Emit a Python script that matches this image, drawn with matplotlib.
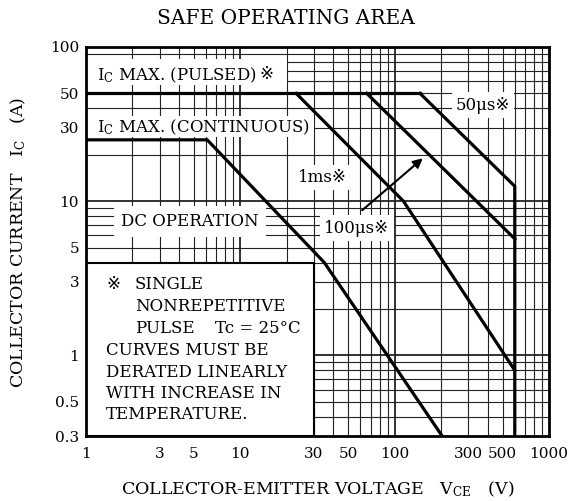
import numpy as np
import matplotlib.pyplot as plt
from matplotlib.patches import Rectangle
from matplotlib.ticker import FixedLocator, FixedFormatter, NullFormatter

plt.rcParams['font.family'] = ['DejaVu Serif', 'DejaVu Sans', 'Noto Sans CJK JP']
plt.rcParams['mathtext.fontset'] = 'dejavuserif'

# SOA boundaries (V_CE in V, I_C in A)
pulsed_v = [1, 146]
pulsed_i = [50, 50]

dc_v = [1, 6.1, 35, 203]
dc_i = [25, 25, 4.0, 0.3]

ms1_v = [23, 114, 600]
ms1_i = [50, 10, 0.8]

us100_v = [66, 600]
us100_i = [50, 5.7]

us50_v = [146, 600, 600]
us50_i = [50, 12.5, 0.3]

x_ticks = [1, 3, 5, 10, 30, 50, 100, 300, 500, 1000]
x_labels = ['1', '3', '5', '10', '30', '50', '100', '300', '500', '1000']
y_ticks = [0.3, 0.5, 1, 3, 5, 10, 30, 50, 100]
y_labels = ['0.3', '0.5', '1', '3', '5', '10', '30', '50', '100']

# Figure

fig = plt.figure(figsize=(5.7, 5.01), dpi=100)
ax = fig.add_axes([86 / 570, 1 - 436 / 501, 463 / 570, 389 / 501])
ax.set_xscale('log')
ax.set_yscale('log')
ax.set_xlim(1, 1000)
ax.set_ylim(0.3, 100)

# grid at every 1..9 step of each decade
x_grid = [k * 10 ** n for n in range(3) for k in range(1, 10)] + [1000]
y_grid = [k * 10 ** n for n in range(-1, 2) for k in range(3, 10) if k * 10 ** n >= 0.3] + \
         [k * 10 ** n for n in range(0, 2) for k in range(1, 3)] + [100]
for x in x_grid:
    ax.axvline(x, color='#222222', lw=1.3 if x in (10, 100) else 0.8, zorder=1)
for y in y_grid:
    ax.axhline(y, color='#222222', lw=1.3 if y in (1, 10) else 0.8, zorder=1)

ax.xaxis.set_major_locator(FixedLocator(x_ticks))
ax.xaxis.set_major_formatter(FixedFormatter(x_labels))
ax.xaxis.set_minor_formatter(NullFormatter())
ax.yaxis.set_major_locator(FixedLocator(y_ticks))
ax.yaxis.set_major_formatter(FixedFormatter(y_labels))
ax.yaxis.set_minor_formatter(NullFormatter())
ax.tick_params(which='both', length=0, labelsize=11)
ax.tick_params(axis='x', pad=8)
ax.tick_params(axis='y', pad=5)
for s in ax.spines.values():
    s.set_linewidth(2)
    s.set_zorder(5)

# white label areas
ax.add_patch(Rectangle((1, 56.5), 19, 83 - 56.5, fc='white', ec='none', zorder=2))
ax.add_patch(Rectangle((1, 26), 29, 35.5 - 26, fc='white', ec='none', zorder=2))
ax.add_patch(Rectangle((1, 0.3), 29, 4 - 0.3, fc='white', ec='black', lw=1.5, zorder=2))

# curves
lw = 2.3
ax.plot(pulsed_v, pulsed_i, color='black', lw=lw, zorder=3)
ax.plot(dc_v, dc_i, color='black', lw=lw, zorder=3)
ax.plot(ms1_v, ms1_i, color='black', lw=lw, zorder=3)
ax.plot(us100_v, us100_i, color='black', lw=lw, zorder=3)
ax.plot(us50_v, us50_i, color='black', lw=lw, zorder=3)

fs = 12
box = dict(fc='white', ec='none', pad=3)

t = ax.text(1.18, 66, r'I$_\mathrm{C}$ MAX. (PULSED)', fontsize=fs, va='center', ha='left', zorder=4)
# reference mark drawn as plain text right of the mathtext label
ax.annotate('※', xy=(1, 0.5), xycoords=t, xytext=(2, 0), textcoords='offset points',
            fontsize=fs, va='center', ha='left', zorder=4)
ax.text(1.18, 30, r'I$_\mathrm{C}$ MAX. (CONTINUOUS)', fontsize=fs, va='center', ha='left', zorder=4)
ax.text(4.7, 7.35, 'DC OPERATION', fontsize=fs, va='center', ha='center', zorder=4,
        bbox=dict(fc='white', ec='none', pad=5))
ax.text(33.8, 14.2, '1ms※', fontsize=fs, va='center', ha='center', zorder=4, bbox=box)
ax.text(374, 42, '50μs※', fontsize=fs, va='center', ha='center', zorder=4, bbox=box)
ax.text(57, 6.7, '100μs※', fontsize=fs, va='center', ha='center', zorder=4, bbox=box)
ax.annotate('', xy=(157, 19.5), xytext=(59.7, 8.5),
            arrowprops=dict(arrowstyle='-|>', color='black', lw=1.5, mutation_scale=14), zorder=4)

# note inside the lower-left box
ax.text(1.35, 2.87, '※', fontsize=fs, va='center', ha='left', zorder=4)
ax.text(2.08, 2.87, 'SINGLE', fontsize=fs, va='center', ha='left', zorder=4)
ax.text(2.08, 2.07, 'NONREPETITIVE', fontsize=fs, va='center', ha='left', zorder=4)
ax.text(2.08, 1.487, 'PULSE', fontsize=fs, va='center', ha='left', zorder=4)
ax.text(6.86, 1.487, 'Tc = 25°C', fontsize=fs, va='center', ha='left', zorder=4)
ax.text(1.35, 1.071, 'CURVES MUST BE', fontsize=fs, va='center', ha='left', zorder=4)
ax.text(1.35, 0.771, 'DERATED LINEARLY', fontsize=fs, va='center', ha='left', zorder=4)
ax.text(1.35, 0.564, 'WITH INCREASE IN', fontsize=fs, va='center', ha='left', zorder=4)
ax.text(1.35, 0.412, 'TEMPERATURE.', fontsize=fs, va='center', ha='left', zorder=4)

fig.text(286 / 570, 1 - 18 / 501, 'SAFE OPERATING AREA', fontsize=14.5, ha='center', va='center')
fig.text(318 / 570, 1 - 489 / 501, r'COLLECTOR-EMITTER VOLTAGE   V$_\mathrm{CE}$   (V)',
         fontsize=12.5, ha='center', va='center')
fig.text(18 / 570, 1 - 242 / 501, r'COLLECTOR CURRENT   I$_\mathrm{C}$   (A)',
         fontsize=12.5, ha='center', va='center', rotation=90)

fig.savefig('out.png', dpi=100)
